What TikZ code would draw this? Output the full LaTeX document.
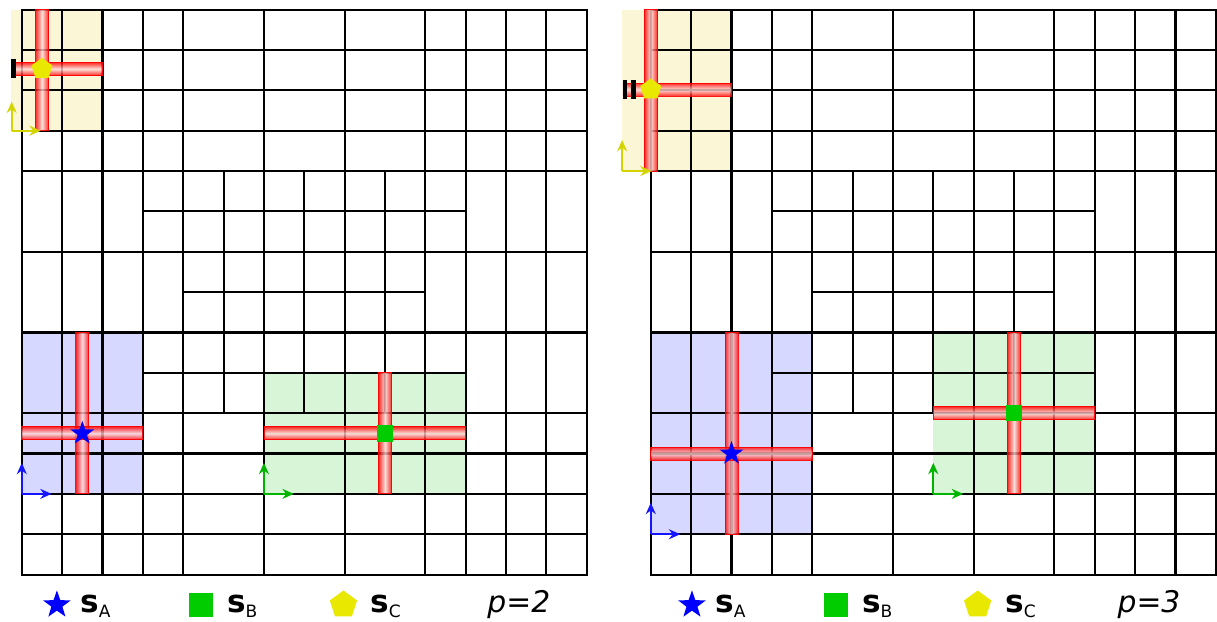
\documentclass[tikz,border=0pt]{standalone}
\usepackage{fontspec}
\setmainfont{DejaVu Sans}
\usetikzlibrary{shapes.geometric,arrows.meta}
\definecolor{yreg}{RGB}{251,247,214}
\definecolor{breg}{RGB}{214,216,255}
\definecolor{greg}{RGB}{216,245,216}
\definecolor{cblue}{RGB}{0,0,255}
\definecolor{cgreen}{RGB}{0,204,0}
\definecolor{cyellow}{RGB}{232,232,0}
\definecolor{ayellow}{RGB}{212,212,0}
\definecolor{ablue}{RGB}{20,20,255}
\definecolor{agreen}{RGB}{0,180,0}
\newcommand{\meshlines}{%
  \foreach \i in {0,1,2,3,4,6,8,10,11,12,13,14} \draw[meshline] (\i,0) -- (\i,14);
  \foreach \i in {5,7,9} \draw[meshline] (\i,4) -- (\i,10);
  \foreach \y in {0,1,2,3,4,6,8,10,11,12,13,14} \draw[meshline] (0,\y) -- (14,\y);
  \draw[meshline] (3,9) -- (11,9);
  \draw[meshline] (4,7) -- (10,7);
  \draw[meshline] (3,5) -- (11,5);
  \draw[meshline] (0,0) rectangle (14,14);
}
\newcommand{\slbl}[1]{{\fontsize{22}{22}\selectfont\bfseries s}{\fontsize{12}{12}\selectfont\raisebox{-3.5pt}{#1}}}
\begin{document}
\begin{tikzpicture}[
  meshline/.style={line width=1.5pt, black, line cap=rect},
  hbar/.style={top color=red, bottom color=red, middle color=white!85!red, fill opacity=0.8, draw=red, draw opacity=0.9, line width=0.6pt},
  vbar/.style={left color=red, right color=red, middle color=white!85!red, fill opacity=0.8, draw=red, draw opacity=0.9, line width=0.6pt},
  symA/.style={star, star points=5, star point ratio=2.5, fill=cblue, draw=none, inner sep=0pt, minimum size=0.62cm},
  symB/.style={rectangle, fill=cgreen, draw=none, inner sep=0pt, minimum size=0.41cm},
  symC/.style={regular polygon, regular polygon sides=5, fill=cyellow, draw=none, inner sep=0pt, minimum size=0.55cm},
  legA/.style={symA, minimum size=0.72cm},
  legB/.style={symB, minimum size=0.59cm},
  legC/.style={symC, minimum size=0.71cm},
  legtext/.style={anchor=base west, inner sep=0pt},
  ptext/.style={anchor=base west, inner sep=0pt, font=\fontsize{21}{21}\selectfont\itshape},
  axarrow/.style={line width=1.4pt, -{Stealth[length=8pt,width=7pt]}},
  bcmark/.style={fill=black, draw=none}
]
\useasboundingbox (0,0) rectangle (30.156,15.388);

% ---------------- left panel (p=2) ----------------
\begin{scope}[shift={(0.540,1.150)}]
  \fill[yreg] (-0.27,11) rectangle (2,14);
  \fill[breg] (0,2) rectangle (3,6);
  \fill[greg] (6,2) rectangle (11,5);
  \meshlines
  % bars of C
  \path[vbar] (0.34,11) rectangle (0.66,14);
  \path[hbar] (-0.15,12.37) rectangle (2,12.69);
  \fill[bcmark] (-0.26,12.31) rectangle (-0.14,12.77);
  % bars of A
  \path[vbar] (1.34,2) rectangle (1.66,6);
  \path[hbar] (0,3.34) rectangle (3,3.66);
  % bars of B
  \path[vbar] (8.84,2) rectangle (9.16,5);
  \path[hbar] (6,3.34) rectangle (11,3.66);
  % sources
  \node[symA] (LsA) at (1.5,3.5) {};
  \node[symB] (LsB) at (9,3.5) {};
  \node[symC] (LsC) at (0.5,12.53) {};
  % axes
  \coordinate (LoC) at (-0.25,11);
  \coordinate (LoCx) at (0.47,11);
  \coordinate (LoCy) at (-0.25,11.72);
  \draw[axarrow, ayellow] (LoC) -- (LoCx);
  \draw[axarrow, ayellow] (LoC) -- (LoCy);
  \coordinate (LoA) at (0,2);
  \coordinate (LoAx) at (0.74,2);
  \coordinate (LoAy) at (0,2.77);
  \draw[axarrow, ablue] (LoA) -- (LoAx);
  \draw[axarrow, ablue] (LoA) -- (LoAy);
  \coordinate (LoB) at (6,2);
  \coordinate (LoBx) at (6.74,2);
  \coordinate (LoBy) at (6,2.77);
  \draw[axarrow, agreen] (LoB) -- (LoBx);
  \draw[axarrow, agreen] (LoB) -- (LoBy);
  % legend
  \node[legA] (LlA) at (0.87,-0.75) {};
  \node[legtext] (LtA) at (1.44,-0.95) {\slbl{A}};
  \node[legB] (LlB) at (4.45,-0.75) {};
  \node[legtext] (LtB) at (5.08,-0.95) {\slbl{B}};
  \node[legC] (LlC) at (7.97,-0.75) {};
  \node[legtext] (LtC) at (8.63,-0.95) {\slbl{C}};
  \node[ptext] (Lp) at (11.53,-0.95) {p=2};
\end{scope}

% ---------------- right panel (p=3) ----------------
\begin{scope}[shift={(16.126,1.150)}]
  \fill[yreg] (-0.72,10) rectangle (2,14);
  \fill[breg] (0,1) rectangle (4,6);
  \fill[greg] (7,2) rectangle (11,6);
  \meshlines
  % bars of C
  \path[vbar] (-0.16,10) rectangle (0.16,14);
  \path[hbar] (-0.69,11.86) rectangle (2,12.18);
  \fill[bcmark] (-0.70,11.79) rectangle (-0.585,12.25);
  \fill[bcmark] (-0.48,11.79) rectangle (-0.365,12.25);
  % bars of A
  \path[vbar] (1.84,1) rectangle (2.16,6);
  \path[hbar] (0,2.84) rectangle (4,3.16);
  % bars of B
  \path[vbar] (8.84,2) rectangle (9.16,6);
  \path[hbar] (7,3.84) rectangle (11,4.16);
  % sources
  \node[symA] (RsA) at (2,3) {};
  \node[symB] (RsB) at (9,4) {};
  \node[symC] (RsC) at (0,12.02) {};
  % axes
  \coordinate (RoC) at (-0.71,10);
  \coordinate (RoCx) at (0.02,10);
  \coordinate (RoCy) at (-0.71,10.77);
  \draw[axarrow, ayellow] (RoC) -- (RoCx);
  \draw[axarrow, ayellow] (RoC) -- (RoCy);
  \coordinate (RoA) at (0,1);
  \coordinate (RoAx) at (0.73,1);
  \coordinate (RoAy) at (0,1.78);
  \draw[axarrow, ablue] (RoA) -- (RoAx);
  \draw[axarrow, ablue] (RoA) -- (RoAy);
  \coordinate (RoB) at (7,2);
  \coordinate (RoBx) at (7.74,2);
  \coordinate (RoBy) at (7,2.77);
  \draw[axarrow, agreen] (RoB) -- (RoBx);
  \draw[axarrow, agreen] (RoB) -- (RoBy);
  % legend
  \node[legA] (RlA) at (1.02,-0.75) {};
  \node[legtext] (RtA) at (1.59,-0.95) {\slbl{A}};
  \node[legB] (RlB) at (4.59,-0.75) {};
  \node[legtext] (RtB) at (5.23,-0.95) {\slbl{B}};
  \node[legC] (RlC) at (8.10,-0.75) {};
  \node[legtext] (RtC) at (8.78,-0.95) {\slbl{C}};
  \node[ptext] (Rp) at (11.56,-0.95) {p=3};
\end{scope}
\end{tikzpicture}
\end{document}
